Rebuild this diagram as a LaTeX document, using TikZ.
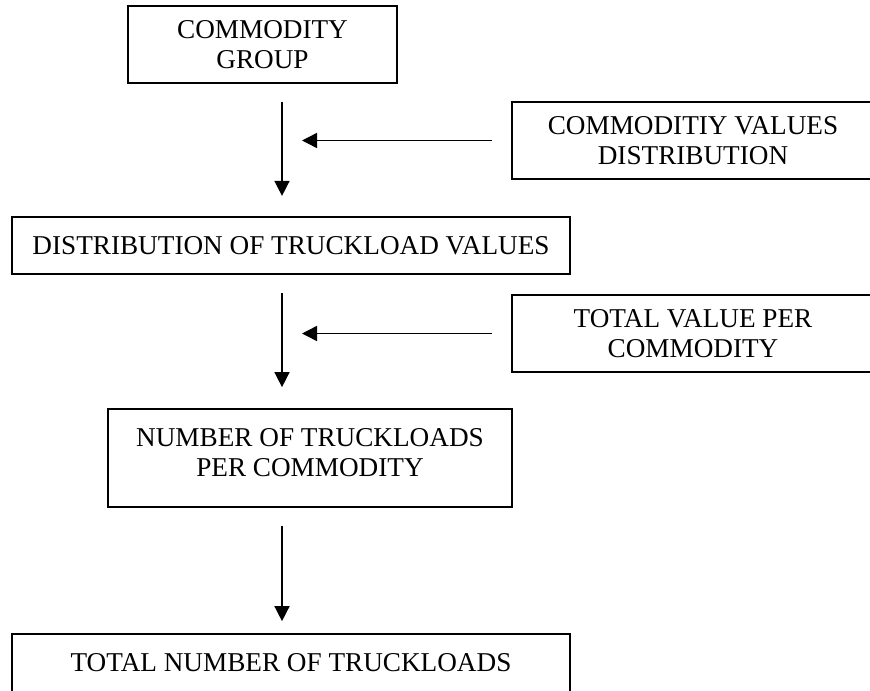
\documentclass[tikz,border=0pt]{standalone}
\usepackage{fontspec}
\setmainfont{Liberation Serif}
\usetikzlibrary{arrows.meta}

\begin{document}
\begin{tikzpicture}[x=0.5pt,y=-0.5pt]
	\tikzset{box/.style={draw=black, line width=0.85pt, rectangle, align=center, inner sep=0pt,
			font=\fontsize{13.6}{15}\selectfont},
		flow/.style={line width=0.75pt, -{Triangle[length=7.5pt,width=7.5pt]}}}
	\useasboundingbox (0,0) rectangle (870,690);
	\clip (0,0) rectangle (870,690);
	\coordinate (spine) at (282,0);
	
	%Hauptkette
	\node[box, minimum width=134.5pt, minimum height=38.5pt] (grp) at (262.5,44.5)  {COMMODITY\\GROUP};
	\node[box, minimum width=279pt,   minimum height=28.75pt] (dtv) at (291,245.5)  {DISTRIBUTION OF TRUCKLOAD VALUES};
	\node[box, minimum width=202pt,   minimum height=49pt]    (ntc) at (310,458)    {NUMBER OF TRUCKLOADS\\PER COMMODITY\\[-9pt]};
	\node[box, minimum width=279pt,   minimum height=29pt]    (tnt) at (291,663)    {TOTAL NUMBER OF TRUCKLOADS};
	
	%Zuflüsse
	\node[box, minimum width=181pt, minimum height=38.5pt] (cvd) at (693,140.5) {COMMODITIY VALUES\\DISTRIBUTION};
	\node[box, minimum width=181pt, minimum height=38.5pt] (tvc) at (693,333.5) {TOTAL VALUE PER\\COMMODITY};
	
	%Pfeile
	\draw[flow, shorten <=9pt, shorten >=10pt]   (grp.south -| spine) -- (dtv.north -| spine);
	\draw[flow, shorten <=9pt, shorten >=10.5pt] (dtv.south -| spine) -- (ntc.north -| spine);
	\draw[flow, shorten <=9pt, shorten >=6pt]    (ntc.south -| spine) -- (tnt.north -| spine);
	\draw[flow, shorten <=9.5pt, shorten >=10pt] (cvd.west) -- (cvd.west -| spine);
	\draw[flow, shorten <=9.5pt, shorten >=10pt] (tvc.west) -- (tvc.west -| spine);
	
\end{tikzpicture}
\end{document}
